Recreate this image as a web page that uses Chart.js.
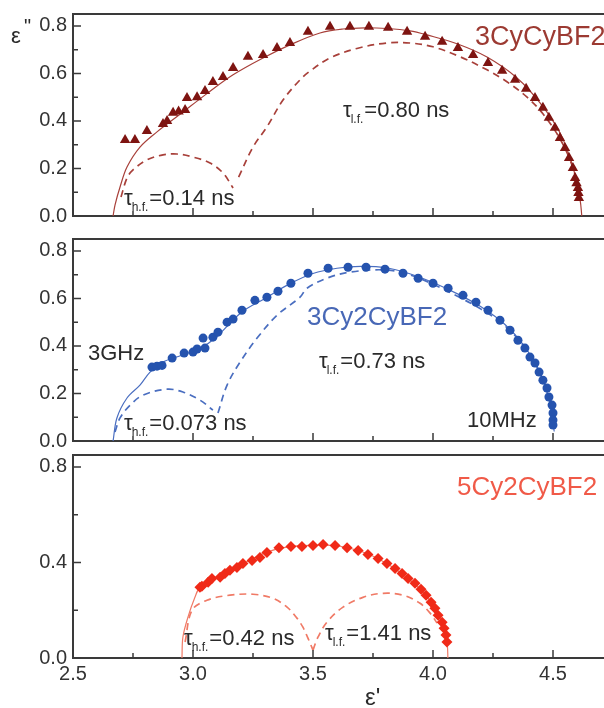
<!DOCTYPE html>
<html>
<head>
<meta charset="utf-8">
<script src="https://cdn.jsdelivr.net/npm/chart.js@4.4.1/dist/chart.umd.min.js"></script>
<style>
  html, body { margin: 0; padding: 0; background: #fff; overflow: hidden; width: 604px; height: 708px; }
  canvas { position: absolute; left: 0; }
</style>
</head>
<body>
<canvas id="c1" width="604" height="226" style="top:0px"></canvas>
<canvas id="c2" width="604" height="226" style="top:225px"></canvas>
<canvas id="c3" width="604" height="258" style="top:450px"></canvas>
<script>
// ---------- data (ε', ε'') ----------
// Panel 1: 3CyCyBF2
const p1Measured = [[2.717,0.32],[2.758,0.32],[2.808,0.358],[2.875,0.387],[2.892,0.40],[2.917,0.434],[2.94,0.44],[2.967,0.446],[2.975,0.497],[3.017,0.50],[3.05,0.526],[3.083,0.564],[3.125,0.585],[3.167,0.623],[3.229,0.67],[3.292,0.678],[3.35,0.707],[3.404,0.728],[3.479,0.775],[3.571,0.796],[3.654,0.796],[3.733,0.796],[3.813,0.792],[3.892,0.775],[3.967,0.754],[4.038,0.733],[4.104,0.707],[4.167,0.678],[4.229,0.644],[4.288,0.611],[4.342,0.573],[4.388,0.535],[4.425,0.497],[4.458,0.455],[4.483,0.413],[4.508,0.371],[4.529,0.328],[4.55,0.286],[4.567,0.244],[4.583,0.202],[4.592,0.16],[4.598,0.138],[4.604,0.118],[4.606,0.097],[4.608,0.076]];
const p1Fit = [[2.667,0],[2.675,0.046],[2.696,0.122],[2.725,0.206],[2.779,0.29],[2.85,0.354],[2.946,0.428],[3.058,0.515],[3.167,0.594],[3.292,0.665],[3.404,0.72],[3.529,0.77],[3.625,0.787],[3.717,0.792],[3.808,0.789],[3.904,0.779],[3.975,0.762],[4.1,0.725],[4.225,0.669],[4.35,0.581],[4.446,0.476],[4.529,0.35],[4.583,0.206],[4.613,0.067],[4.62,0]];
const p1HF = [[2.70,0.08],[2.725,0.16],[2.75,0.194],[2.808,0.236],[2.875,0.257],[2.933,0.261],[3.0,0.248],[3.071,0.223],[3.125,0.181],[3.167,0.118]];
const p1LF = [[3.19,0.164],[3.25,0.29],[3.308,0.375],[3.375,0.488],[3.446,0.573],[3.488,0.61],[3.571,0.665],[3.683,0.705],[3.808,0.728],[3.904,0.728],[4.0,0.712],[4.113,0.67],[4.225,0.615],[4.308,0.565],[4.392,0.5],[4.458,0.43],[4.529,0.325],[4.579,0.215],[4.604,0.12],[4.613,0.067]];

// Panel 2: 3Cy2CyBF2
const p2Measured = [[2.829,0.311],[2.85,0.315],[2.871,0.318],[2.913,0.349],[2.963,0.37],[3.0,0.374],[3.017,0.387],[3.05,0.391],[3.042,0.433],[3.083,0.437],[3.104,0.458],[3.142,0.5],[3.167,0.513],[3.204,0.55],[3.258,0.592],[3.308,0.605],[3.354,0.63],[3.408,0.664],[3.479,0.706],[3.563,0.727],[3.646,0.731],[3.721,0.731],[3.8,0.723],[3.875,0.706],[3.938,0.685],[4.0,0.664],[4.063,0.643],[4.125,0.613],[4.179,0.584],[4.229,0.55],[4.279,0.508],[4.321,0.466],[4.354,0.424],[4.383,0.391],[4.404,0.353],[4.425,0.328],[4.442,0.29],[4.458,0.256],[4.475,0.223],[4.483,0.185],[4.496,0.151],[4.5,0.118],[4.5,0.088],[4.5,0.067]];
const p2Fit = [[2.667,0],[2.683,0.097],[2.725,0.181],[2.779,0.235],[2.821,0.29],[2.875,0.332],[2.95,0.36],[3.03,0.39],[3.1,0.44],[3.2,0.54],[3.3,0.6],[3.4,0.66],[3.5,0.705],[3.6,0.727],[3.7,0.735],[3.8,0.73],[3.9,0.705],[4.0,0.667],[4.1,0.62],[4.2,0.565],[4.3,0.49],[4.38,0.40],[4.44,0.30],[4.48,0.19],[4.5,0.08],[4.505,0.04]];
const p2HF = [[2.675,0.038],[2.696,0.097],[2.738,0.151],[2.792,0.193],[2.892,0.218],[2.958,0.206],[3.029,0.172],[3.083,0.13]];
const p2LF = [[3.104,0.118],[3.142,0.235],[3.196,0.332],[3.267,0.433],[3.35,0.529],[3.446,0.605],[3.475,0.643],[3.558,0.685],[3.65,0.71],[3.8,0.72],[3.9,0.7],[4.0,0.66],[4.1,0.61],[4.2,0.555],[4.3,0.485],[4.4,0.37],[4.46,0.25],[4.49,0.15],[4.5,0.07]];

// Panel 3: 5Cy2CyBF2
const p3Measured = [[3.029,0.296],[3.037,0.30],[3.063,0.317],[3.079,0.333],[3.113,0.338],[3.133,0.354],[3.154,0.367],[3.183,0.379],[3.208,0.396],[3.246,0.408],[3.279,0.421],[3.308,0.442],[3.358,0.462],[3.408,0.467],[3.454,0.467],[3.5,0.471],[3.542,0.475],[3.592,0.471],[3.642,0.462],[3.688,0.45],[3.729,0.433],[3.771,0.417],[3.808,0.396],[3.842,0.375],[3.871,0.354],[3.896,0.333],[3.925,0.313],[3.95,0.288],[3.971,0.263],[3.992,0.233],[4.008,0.208],[4.021,0.179],[4.038,0.15],[4.046,0.125],[4.054,0.096],[4.058,0.067]];
const p3Fit = [[2.954,0],[2.958,0.088],[2.979,0.171],[3.008,0.254],[3.029,0.296],[3.1,0.335],[3.2,0.39],[3.3,0.44],[3.4,0.466],[3.5,0.472],[3.6,0.47],[3.7,0.447],[3.8,0.4],[3.9,0.33],[3.97,0.263],[4.02,0.19],[4.05,0.11],[4.06,0.05],[4.062,0]];
const p3HF = [[2.967,0.067],[2.996,0.2],[3.058,0.242],[3.154,0.263],[3.25,0.267],[3.333,0.25],[3.392,0.213],[3.433,0.167],[3.458,0.129],[3.479,0.083],[3.5,0.033]];
const p3LF = [[3.5,0.033],[3.521,0.088],[3.558,0.15],[3.625,0.213],[3.708,0.254],[3.792,0.271],[3.875,0.263],[3.946,0.229],[3.988,0.188],[4.017,0.146]];

// ticks
const xMajor = [2.5, 3.0, 3.5, 4.0, 4.5];
const xMinor = [2.75, 3.25, 3.75, 4.25];
const yMajorA = [0.0, 0.2, 0.4, 0.6, 0.8];
const yMinorA = [0.1, 0.3, 0.5, 0.7];
const yMajorB = [0.0, 0.4, 0.8];
const yMinorB = [0.2, 0.6];

// ---------- styling ----------
const FONT = "'Liberation Sans', Arial, sans-serif";
const AXIS = '#3a3a3a';
const TXT = '#2a2a2a';

const pts = a => a.map(p => ({x: p[0], y: p[1]}));

function drawTau(ctx, x, base, sub, rest, color) {
  ctx.fillStyle = color || TXT;
  ctx.textBaseline = 'alphabetic';
  ctx.textAlign = 'left';
  ctx.font = '22px ' + FONT;
  ctx.fillText('τ', x, base);
  let w = ctx.measureText('τ').width;
  ctx.font = '12px ' + FONT;
  ctx.fillText(sub, x + w - 1, base + 6);
  let w2 = ctx.measureText(sub).width;
  ctx.font = '22px ' + FONT;
  ctx.fillText(rest, x + w + w2, base);
}
function drawText(ctx, s, x, base, size, color) {
  ctx.fillStyle = color || TXT;
  ctx.textBaseline = 'alphabetic';
  ctx.textAlign = 'left';
  ctx.font = size + 'px ' + FONT;
  ctx.fillText(s, x, base);
}

const framePlugin = {
  id: 'frame',
  afterDraw(chart, args, opts) {
    const ctx = chart.ctx;
    const {left, right, top, bottom} = chart.chartArea;
    const xs = chart.scales.x, ys = chart.scales.y;
    ctx.save();
    ctx.strokeStyle = AXIS;
    ctx.lineWidth = 2;
    ctx.beginPath(); ctx.moveTo(left - 1, top); ctx.lineTo(right, top); ctx.stroke();
    ctx.lineWidth = 1.5;
    ctx.beginPath();
    xMajor.forEach(v => { const p = xs.getPixelForValue(v); ctx.moveTo(p, bottom); ctx.lineTo(p, bottom - 8); });
    xMinor.forEach(v => { const p = xs.getPixelForValue(v); ctx.moveTo(p, bottom); ctx.lineTo(p, bottom - 5); });
    opts.yMajor.forEach(v => { const p = ys.getPixelForValue(v); ctx.moveTo(left, p); ctx.lineTo(left + 8, p); });
    opts.yMinor.forEach(v => { const p = ys.getPixelForValue(v); ctx.moveTo(left, p); ctx.lineTo(left + 5, p); });
    ctx.stroke();
    if (opts.annotate) opts.annotate(ctx);
    ctx.restore();
  }
};

function makePanel(id, o) {
  const markerDS = {
    label: 'measured', data: pts(o.measured), showLine: false,
    pointStyle: o.pointStyle, pointRadius: o.pointRadius,
    pointBackgroundColor: o.markerColor, pointBorderColor: o.markerColor, pointBorderWidth: 0,
    clip: 8
  };
  const lineDS = (d, dash, col, w) => ({
    label: 'fit', data: pts(d), showLine: true, pointRadius: 0,
    borderColor: col, borderWidth: w, borderDash: dash, tension: 0.35, fill: false
  });
  return new Chart(document.getElementById(id), {
    type: 'scatter',
    data: {
      datasets: [
        markerDS,
        lineDS(o.fit, [], o.lineColor, 1.2),
        lineDS(o.hf, [7, 5], o.lineColor, 1.7),
        lineDS(o.lf, [7, 5], o.lineColor, 1.7)
      ]
    },
    options: {
      responsive: false, animation: false, devicePixelRatio: 1,
      layout: { autoPadding: false, padding: { top: o.padTop, left: 0, right: 0, bottom: 0 } },
      plugins: { legend: { display: false }, tooltip: { enabled: false },
        frame: { yMajor: o.yMajor, yMinor: o.yMinor, annotate: o.annotate } },
      scales: {
        x: {
          type: 'linear', min: 2.5, max: 4.7125,
          grid: { display: false, drawTicks: false },
          border: { display: true, color: AXIS, width: 2 },
          ticks: { display: o.showX, stepSize: 0.5, includeBounds: false, padding: 4,
            color: '#333', font: { family: FONT, size: 20 }, maxRotation: 0,
            callback: v => Number(v).toFixed(1) },
          afterFit: s => { s.height = o.xHeight; s.paddingLeft = 0; s.paddingRight = 0; }
        },
        y: {
          type: 'linear', min: 0, max: 0.85,
          grid: { display: false, drawTicks: false },
          border: { display: true, color: AXIS, width: 2 },
          ticks: { stepSize: o.yStep, includeBounds: false, padding: 6,
            color: '#333', font: { family: FONT, size: 20 },
            callback: v => Number(v).toFixed(1) },
          afterFit: s => { s.width = 73; s.paddingTop = 0; s.paddingBottom = 0; }
        }
      }
    },
    plugins: [framePlugin]
  });
}

// Panel 1
makePanel('c1', {
  measured: p1Measured, fit: p1Fit, hf: p1HF, lf: p1LF,
  pointStyle: 'triangle', pointRadius: 6, markerColor: '#7e1411', lineColor: '#a8403a',
  padTop: 14, xHeight: 10, showX: false, yStep: 0.2, yMajor: yMajorA, yMinor: yMinorA,
  annotate: ctx => {
    drawText(ctx, 'ε', 11, 43, 22, TXT);
    drawText(ctx, '"', 24, 33, 20, TXT);
    drawText(ctx, '3CyCyBF2', 475, 45, 27, '#9c3a32');
    drawTau(ctx, 343, 117, 'l.f.', '=0.80 ns', TXT);
    drawTau(ctx, 124, 205, 'h.f.', '=0.14 ns', TXT);
  }
});

// Panel 2
makePanel('c2', {
  measured: p2Measured, fit: p2Fit, hf: p2HF, lf: p2LF,
  pointStyle: 'circle', pointRadius: 4.5, markerColor: '#2553ae', lineColor: '#4a6ec0',
  padTop: 14, xHeight: 10, showX: false, yStep: 0.2, yMajor: yMajorA, yMinor: yMinorA,
  annotate: ctx => {
    drawText(ctx, '3Cy2CyBF2', 307, 100, 26, '#4868b6');
    drawText(ctx, '3GHz', 88, 135, 22, TXT);
    drawText(ctx, '10MHz', 467, 202, 22, TXT);
    drawTau(ctx, 319, 143, 'l.f.', '=0.73 ns', TXT);
    drawTau(ctx, 124, 205, 'h.f.', '=0.073 ns', TXT);
  }
});

// Panel 3
makePanel('c3', {
  measured: p3Measured, fit: p3Fit, hf: p3HF, lf: p3LF,
  pointStyle: 'rectRot', pointRadius: 5.5, markerColor: '#f02a18', lineColor: '#f07a66',
  padTop: 5, xHeight: 50, showX: true, yStep: 0.4, yMajor: yMajorB, yMinor: yMinorB,
  annotate: ctx => {
    drawText(ctx, '5Cy2CyBF2', 457, 45, 26, '#f05a48');
    drawTau(ctx, 184, 195, 'h.f.', '=0.42 ns', TXT);
    drawTau(ctx, 325, 190, 'l.f.', '=1.41 ns', TXT);
    drawText(ctx, "ε'", 365, 255, 24, TXT);
  }
});
</script>
</body>
</html>
